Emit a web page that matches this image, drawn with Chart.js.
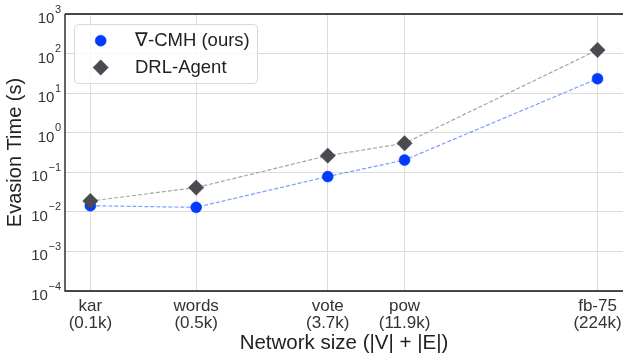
<!DOCTYPE html>
<html>
<head>
<meta charset="utf-8">
<script src="https://cdn.jsdelivr.net/npm/chart.js@4.4.0/dist/chart.umd.min.js"></script>
<style>
html, body { margin:0; padding:0; background:#fff; }
</style>
</head>
<body>
<canvas id="evasion_Chart" width="623" height="356"></canvas>
<script>
// networks on the x axis, |V|+|E|
var networkNames = ["kar", "words", "vote", "pow", "fb-75"];
var networkSizes = ["(0.1k)", "(0.5k)", "(3.7k)", "(11.9k)", "(224k)"];
var networkEdges = [100, 500, 3700, 11900, 224000];

// evasion time (s)
var cmhTime = [0.0143, 0.013, 0.078, 0.204, 23.2];
var drlTime = [0.0188, 0.041, 0.263, 0.54, 123];

var yExponents = [-4, -3, -2, -1, 0, 1, 2, 3];

var FONT = "'Liberation Sans', Arial, sans-serif";

function toPoints(ys) {
    let pts = new Array();
    for (let i = 0; i < networkEdges.length; i++) {
        pts.push({x: networkEdges[i], y: ys[i]});
    }
    return pts;
}

// spines, 10^n tick labels and the boxed legend
var decorPlugin = {
    id: "decor",
    afterDraw: function(chart) {
        let ctx = chart.ctx;
        let a = chart.chartArea;
        let ys = chart.scales.y;

        ctx.save();
        ctx.strokeStyle = "#111";
        ctx.lineWidth = 1.3;
        ctx.beginPath();
        ctx.moveTo(a.left, a.top);
        ctx.lineTo(a.right, a.top);
        ctx.moveTo(a.left, a.top);
        ctx.lineTo(a.left, a.bottom);
        ctx.lineTo(a.right, a.bottom);
        ctx.stroke();

        // y tick labels as 10 with a raised exponent
        ctx.fillStyle = "#333";
        ctx.textBaseline = "alphabetic";
        ctx.textAlign = "left";
        for (let i = 0; i < yExponents.length; i++) {
            let e = yExponents[i];
            let py = ys.getPixelForValue(Math.pow(10, e));
            let expText = (e < 0 ? "\u2212" : "") + Math.abs(e);
            ctx.font = "11px " + FONT;
            let ew = ctx.measureText(expText).width;
            ctx.font = "15px " + FONT;
            let bw = ctx.measureText("10").width;
            let right = a.left - 4;
            ctx.fillText("10", right - ew - bw - 0.5, py + 9);
            ctx.font = "11px " + FONT;
            ctx.fillText(expText, right - ew, py - 1.5);
        }

        // legend
        let lx = 74.5, ly = 24.5, lw = 183, lh = 59;
        ctx.beginPath();
        ctx.roundRect(lx, ly, lw, lh, 4);
        ctx.fillStyle = "rgba(255,255,255,0.8)";
        ctx.fill();
        ctx.strokeStyle = "#d9d9d9";
        ctx.lineWidth = 1;
        ctx.stroke();

        let rows = [40.7, 67.5];
        let sets = [chart.data.datasets[0], chart.data.datasets[1]];
        for (let i = 0; i < sets.length; i++) {
            let ds = sets[i];
            ctx.fillStyle = ds.pointBackgroundColor;
            ctx.strokeStyle = ds.pointBackgroundColor;
            ctx.lineWidth = 0.5;
            Chart.helpers.drawPoint(ctx, {pointStyle: ds.pointStyle, radius: ds.pointRadius, rotation: 0, borderWidth: 0.5}, 100.7, rows[i]);
            ctx.fillStyle = "#222";
            ctx.font = "18.5px " + FONT;
            ctx.textBaseline = "middle";
            ctx.fillText(ds.label, 135, rows[i] + 0.5);
        }
        ctx.restore();
    }
};

var evasionChart = new Chart(document.getElementById("evasion_Chart"), {
    type: "line",
    plugins: [decorPlugin],
    data: {
        datasets: [
            {
                label: "\u2207-CMH (ours)",
                data: toPoints(cmhTime),
                order: 1,
                borderColor: "rgba(0,60,255,0.5)",
                borderDash: [4, 2],
                borderWidth: 1.2,
                pointStyle: "circle",
                pointRadius: 5.5,
                pointBackgroundColor: "#003cff",
                pointBorderColor: "#003cff",
                pointBorderWidth: 0.5
            },
            {
                label: "DRL-Agent",
                data: toPoints(drlTime),
                order: 0,
                borderColor: "#a5a5a5",
                borderDash: [4, 2],
                borderWidth: 1.2,
                pointStyle: "rectRot",
                pointRadius: 7.7,
                pointBackgroundColor: "#4a4a50",
                pointBorderColor: "#4a4a50",
                pointBorderWidth: 0.5
            }
        ]
    },
    options: {
        responsive: false,
        animation: false,
        devicePixelRatio: 1,
        layout: { autoPadding: false, padding: { top: 14, right: 0, left: 0, bottom: 0 } },
        plugins: {
            legend: { display: false },
            tooltip: { enabled: false }
        },
        scales: {
            x: {
                type: "logarithmic",
                min: 68,
                max: 330000,
                afterBuildTicks: function(s) {
                    s.ticks = networkEdges.map(function(v) { return {value: v}; });
                },
                afterFit: function(s) {
                    s.height = 65;
                    s.paddingLeft = 0;
                    s.paddingRight = 0;
                },
                ticks: {
                    autoSkip: false,
                    maxRotation: 0,
                    padding: 6,
                    color: "#333",
                    font: { family: FONT, size: 17, lineHeight: 1.05 },
                    callback: function(v, i) { return [networkNames[i], networkSizes[i]]; }
                },
                grid: { color: "#dcdcdc", lineWidth: 1, drawTicks: false },
                border: { display: false },
                title: {
                    display: true,
                    text: "Network size (|V| + |E|)",
                    color: "#222",
                    font: { family: FONT, size: 20.5 },
                    padding: { top: 0, bottom: 0 }
                }
            },
            y: {
                type: "logarithmic",
                min: 1e-4,
                max: 1e3,
                afterBuildTicks: function(s) {
                    s.ticks = yExponents.map(function(e) { return {value: Math.pow(10, e)}; });
                },
                afterFit: function(s) {
                    s.width = 65;
                    s.paddingTop = 0;
                    s.paddingBottom = 0;
                },
                ticks: { display: false },
                grid: { color: "#dcdcdc", lineWidth: 1, drawTicks: false },
                border: { display: false },
                title: {
                    display: true,
                    text: "Evasion Time (s)",
                    color: "#222",
                    font: { family: FONT, size: 20 },
                    padding: { top: 3, bottom: 0 }
                }
            }
        }
    }
});
</script>
</body>
</html>
